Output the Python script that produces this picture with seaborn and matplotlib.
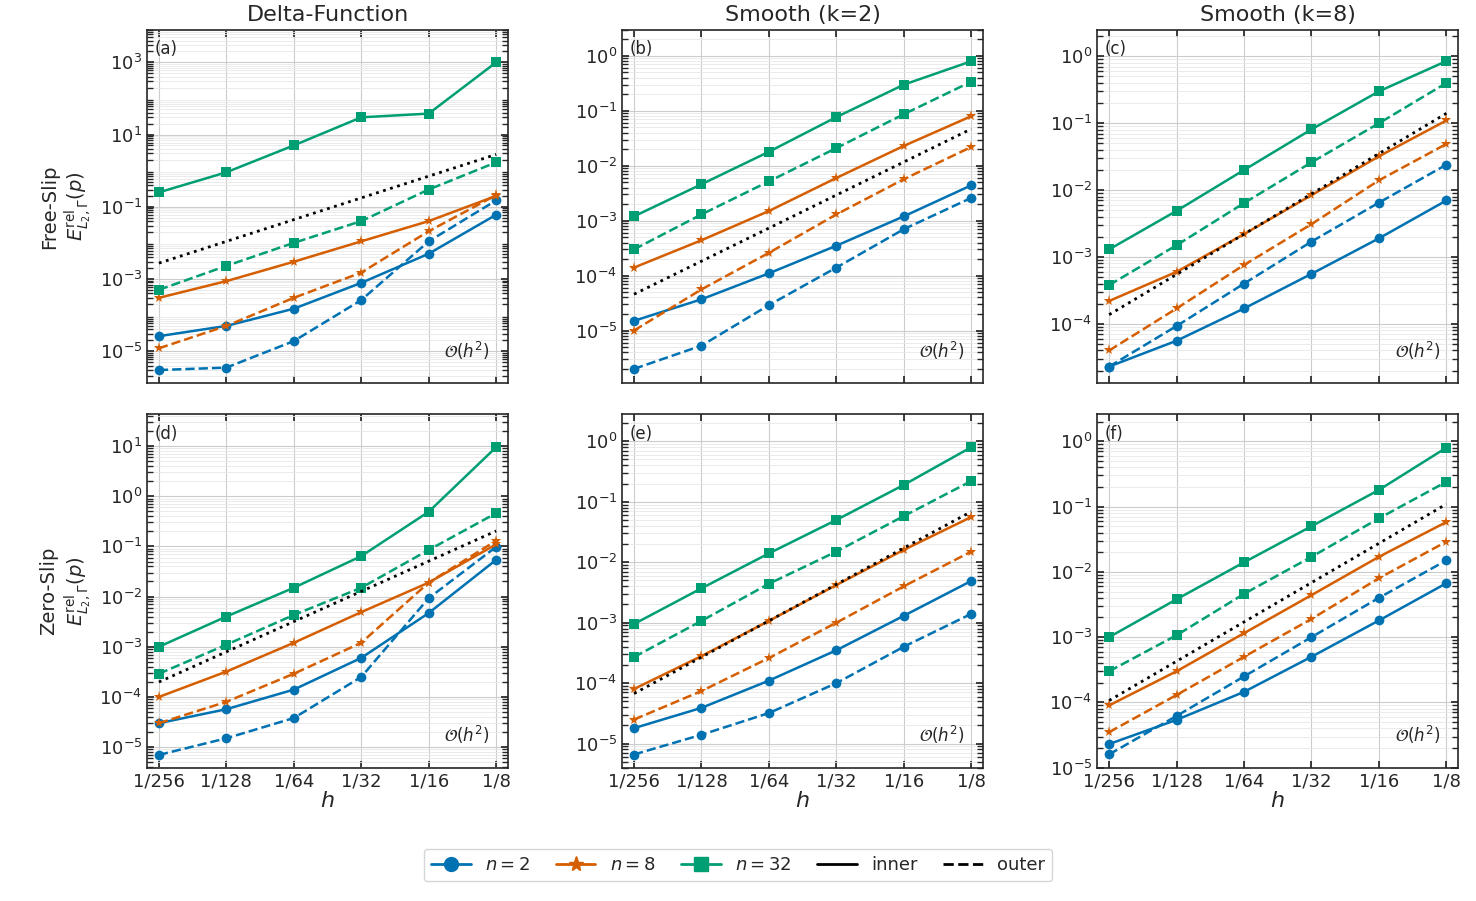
import numpy as np
import pandas as pd
import seaborn as sns
import matplotlib.pyplot as plt
from matplotlib.lines import Line2D

sns.set_theme(style="ticks")
plt.rcParams['font.family'] = ['DejaVu Sans']
plt.rcParams['mathtext.fontset'] = 'dejavusans'

h_values = [1 / 256, 1 / 128, 1 / 64, 1 / 32, 1 / 16, 1 / 8]
h_labels = ['1/256', '1/128', '1/64', '1/32', '1/16', '1/8']
n_values = [2, 8, 32]
col_titles = ['Delta-Function', 'Smooth (k=2)', 'Smooth (k=8)']
row_titles = ['Free-Slip', 'Zero-Slip']
panel_tags = ['(a)', '(b)', '(c)', '(d)', '(e)', '(f)']

# errors[panel][n] = (inner, outer)
errors = {
    'a': {2: ([2.6e-5, 5e-5, 1.5e-4, 7.8e-4, 5e-3, 0.06], [3e-6, 3.5e-6, 1.9e-5, 2.6e-4, 0.011, 0.15]),
          8: ([3e-4, 8.7e-4, 3e-3, 0.011, 0.04, 0.2], [1.2e-5, 5e-5, 3e-4, 1.5e-3, 0.021, 0.21]),
          32: ([0.25, 0.9, 5.0, 30.0, 38.0, 1000.0], [5e-4, 2.3e-3, 0.01, 0.04, 0.3, 1.7])},
    'b': {2: ([1.5e-5, 3.7e-5, 1.1e-4, 3.5e-4, 1.2e-3, 4.4e-3], [2e-6, 5.3e-6, 2.9e-5, 1.4e-4, 7e-4, 2.6e-3]),
          8: ([1.4e-4, 4.4e-4, 1.5e-3, 6e-3, 0.023, 0.08], [1e-5, 5.6e-5, 2.6e-4, 1.3e-3, 5.7e-3, 0.022]),
          32: ([1.2e-3, 4.6e-3, 0.018, 0.077, 0.3, 0.8], [3e-4, 1.3e-3, 5.2e-3, 0.021, 0.087, 0.34])},
    'c': {2: ([2.3e-5, 5.6e-5, 1.7e-4, 5.6e-4, 1.9e-3, 7e-3], [2.3e-5, 9.3e-5, 4e-4, 1.7e-3, 6.5e-3, 0.024]),
          8: ([2.2e-4, 6e-4, 2.2e-3, 8.4e-3, 0.032, 0.11], [4e-5, 1.7e-4, 7.6e-4, 3.1e-3, 0.014, 0.049]),
          32: ([1.3e-3, 4.9e-3, 0.02, 0.081, 0.3, 0.85], [3.8e-4, 1.5e-3, 6.4e-3, 0.026, 0.1, 0.4])},
    'd': {2: ([3e-5, 5.7e-5, 1.4e-4, 6e-4, 4.7e-3, 0.054], [7e-6, 1.5e-5, 3.8e-5, 2.5e-4, 9.3e-3, 0.098]),
          8: ([1e-4, 3.2e-4, 1.2e-3, 4.9e-3, 0.019, 0.11], [3e-5, 8e-5, 2.9e-4, 1.2e-3, 0.019, 0.13]),
          32: ([1e-3, 4e-3, 0.015, 0.064, 0.49, 9.5], [2.9e-4, 1.1e-3, 4.3e-3, 0.015, 0.085, 0.46])},
    'e': {2: ([1.8e-5, 3.9e-5, 1.1e-4, 3.5e-4, 1.3e-3, 4.9e-3], [6.6e-6, 1.4e-5, 3.2e-5, 1e-4, 4e-4, 1.4e-3]),
          8: ([8e-5, 2.8e-4, 1.07e-3, 4.2e-3, 0.016, 0.056], [2.5e-5, 7.4e-5, 2.6e-4, 1e-3, 4e-3, 0.015]),
          32: ([9.5e-4, 3.7e-3, 0.014, 0.05, 0.19, 0.8], [2.7e-4, 1.07e-3, 4.4e-3, 0.015, 0.058, 0.22])},
    'f': {2: ([2.3e-5, 5.4e-5, 1.45e-4, 5e-4, 1.8e-3, 6.7e-3], [1.6e-5, 6.2e-5, 2.5e-4, 1e-3, 4e-3, 0.015]),
          8: ([9e-5, 3e-4, 1.15e-3, 4.4e-3, 0.017, 0.058], [3.5e-5, 1.3e-4, 5e-4, 1.9e-3, 8e-3, 0.029]),
          32: ([1e-3, 3.8e-3, 0.014, 0.05, 0.18, 0.8], [3e-4, 1.07e-3, 4.6e-3, 0.017, 0.066, 0.24])},
}
ref_coef = {'a': 180, 'b': 3.0, 'c': 9.0, 'd': 13.0, 'e': 4.4, 'f': 7.0}
ylims = {'a': (1.3e-6, 8e3), 'b': (1.1e-6, 3), 'c': (1.3e-5, 2.5),
         'd': (3.9e-6, 43), 'e': (4e-6, 2.8), 'f': (1e-5, 2.6)}

colors = {2: '#0072B2', 8: '#D55E00', 32: '#009E73'}
markers = {2: 'o', 8: '*', 32: 's'}
msizes = {2: 7, 8: 8, 32: 7}

fig, axes = plt.subplots(2, 3, figsize=(14.76, 9.01), dpi=100)
fig.subplots_adjust(left=0.0996, right=0.988, top=0.967, bottom=0.148, wspace=0.316, hspace=0.088)

for idx, key in enumerate('abcdef'):
    ax = axes.flat[idx]
    r, c = divmod(idx, 3)
    rows = []
    for n in n_values:
        inner, outer = errors[key][n]
        for h, e in zip(h_values, inner):
            rows.append({'h': h, 'err': e, 'n': n, 'side': 'inner'})
        for h, e in zip(h_values, outer):
            rows.append({'h': h, 'err': e, 'n': n, 'side': 'outer'})
    df = pd.DataFrame(rows)
    for n in n_values:
        for side, ls in [('inner', '-'), ('outer', '--')]:
            d = df[(df.n == n) & (df.side == side)]
            sns.lineplot(data=d, x='h', y='err', ax=ax, color=colors[n], linestyle=ls,
                         marker=markers[n], markersize=msizes[n], markeredgewidth=0,
                         linewidth=1.8, legend=False)
    hh = np.array(h_values)
    ax.plot(hh, ref_coef[key] * hh ** 2, color='black', linestyle=':', linewidth=2)
    ax.set_xscale('log', base=2)
    ax.set_yscale('log')
    ax.set_xlim(1 / 256 / 1.13, 1 / 8 * 1.13)
    ax.set_ylim(*ylims[key])
    if key == 'a':
        ax.set_yticks([1e-5, 1e-3, 1e-1, 1e1, 1e3])
    ax.set_xticks(h_values)
    ax.set_xticklabels(h_labels if r == 1 else [])
    ax.grid(True, which='major', color='#cccccc', linewidth=0.8)
    ax.grid(True, which='minor', color='#e8e8e8', linewidth=0.6)
    ax.tick_params(which='both', direction='in', top=True, right=True, labelsize=13)
    ax.tick_params(which='major', length=5)
    ax.set_xlabel('$h$' if r == 1 else '', fontsize=16, labelpad=0)
    ax.set_ylabel('')
    if r == 0:
        ax.set_title(col_titles[c], fontsize=16)
    if c == 0:
        ax.set_ylabel(row_titles[r] + '\n' + r'$E^{\mathrm{rel}}_{L_2,\Gamma}(p)$', fontsize=14)
    ax.text(0.02, 0.97, panel_tags[idx], transform=ax.transAxes, ha='left', va='top', fontsize=12)
    ax.text(0.95, 0.06, r'$\mathcal{O}(h^2)$', transform=ax.transAxes, ha='right', va='bottom', fontsize=12)
    for s in ax.spines.values():
        s.set_linewidth(1.2)

handles = [Line2D([], [], color=colors[n], marker=markers[n], markersize=msizes[n] + 3, linewidth=2,
                  label=f'$n={n}$') for n in n_values]
handles += [Line2D([], [], color='black', linestyle='-', linewidth=2, label='inner'),
            Line2D([], [], color='black', linestyle='--', linewidth=2, label='outer')]
fig.legend(handles=handles, loc='lower center', ncol=5, fontsize=13, bbox_to_anchor=(0.5, 0.012),
           frameon=True, handlelength=2.2, columnspacing=1.4)

fig.savefig('out.png', dpi=100)
